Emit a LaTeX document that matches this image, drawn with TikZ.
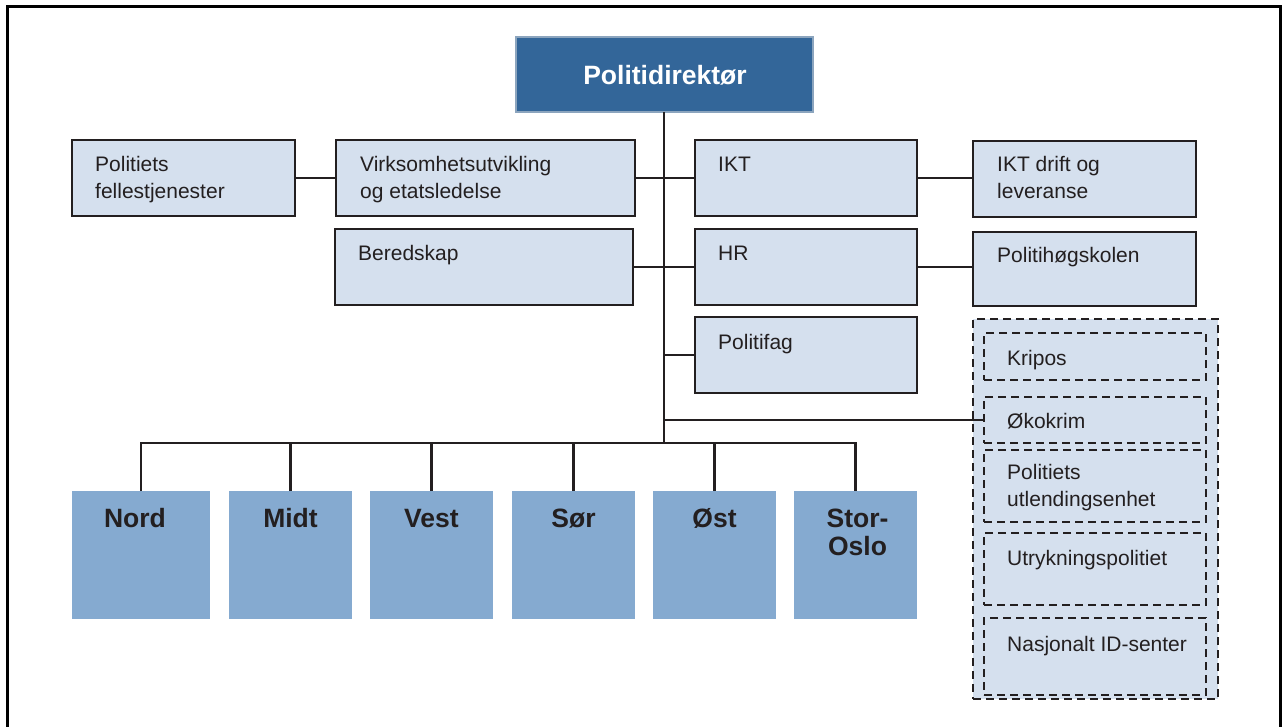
\documentclass[tikz,border=0pt]{standalone}
\usepackage{fontspec}
\setmainfont{Liberation Sans}
\usetikzlibrary{calc}
\definecolor{dirblue}{RGB}{51,102,153}
\definecolor{dirborder}{RGB}{140,165,190}
\definecolor{lightfill}{RGB}{213,224,238}
\definecolor{regfill}{RGB}{133,170,208}
\definecolor{ink}{RGB}{35,31,32}
\begin{document}
\begin{tikzpicture}[x=1pt,y=-1pt,
  lbox/.style={draw=ink, line width=2.6pt, fill=lightfill, rectangle, inner sep=0, outer sep=0},
  dbox/.style={lbox, dash pattern=on 8pt off 5pt, line width=2.6pt, fill=none},
  regbox/.style={rectangle, fill=regfill, inner sep=0, outer sep=0, minimum height=128pt},
  lbl/.style={font=\fontsize{21}{27}\selectfont, text=ink, inner sep=0, anchor=base west},
  rlbl/.style={font=\bfseries\fontsize{26.5}{28}\selectfont, text=ink, inner sep=0, anchor=base},
  conn/.style={draw=ink, line width=2.4pt}]
\useasboundingbox (0,0) rectangle (1284,727);
% frame
\draw[line width=3pt, black] (7,735) -- (7,7) -- (1280,7) -- (1280,735);
% top box
\node[rectangle, fill=dirblue, draw=dirborder, line width=1.5pt, inner sep=0, outer sep=0,
  minimum width=297pt, minimum height=75pt] (dir) at (664.5,74.5) {};
\node[font=\bfseries\fontsize{26.5}{28}\selectfont, text=white, inner sep=0, anchor=base] (dirt)
  at ($(dir.north)+(0.5,48)$) {Politidirektør};
% light boxes
\node[lbox, minimum width=223pt, minimum height=76pt] (pf) at (183.5,178) {};
\node[lbox, minimum width=299pt, minimum height=76pt] (vu) at (485.5,178) {};
\node[lbox, minimum width=222pt, minimum height=76pt] (ikt) at (806,178) {};
\node[lbox, minimum width=223pt, minimum height=76pt] (iktd) at (1084.5,179) {};
\node[lbox, minimum width=298pt, minimum height=76pt] (ber) at (484,267) {};
\node[lbox, minimum width=222pt, minimum height=76pt] (hr) at (806,267) {};
\node[lbox, minimum width=223pt, minimum height=74pt] (phs) at (1084.5,269) {};
\node[lbox, minimum width=222pt, minimum height=76pt] (pfag) at (806,355) {};
% dashed group
\node[lbox, dash pattern=on 8pt off 5pt, line width=1.8pt, minimum width=245pt, minimum height=380pt] (grp) at (1095.5,509) {};
\node[dbox, minimum width=222pt, minimum height=47pt] (kri) at (1095,356.5) {};
\node[dbox, minimum width=222pt, minimum height=46pt] (oko) at (1095,420) {};
\node[dbox, minimum width=222pt, minimum height=72pt] (pue) at (1095,486) {};
\node[dbox, minimum width=222pt, minimum height=72pt] (up) at (1095,569) {};
\node[dbox, minimum width=222pt, minimum height=77pt] (nid) at (1095,656.5) {};
% labels
\node[lbl] (pft) at ($(pf.north west)+(23,32)$) {\begin{tabular}[t]{@{}l@{}}Politiets\\fellestjenester\end{tabular}};
\node[lbl] (vut) at ($(vu.north west)+(24,32)$) {\begin{tabular}[t]{@{}l@{}}Virksomhetsutvikling\\og etatsledelse\end{tabular}};
\node[lbl] (iktt) at ($(ikt.north west)+(23,32)$) {IKT};
\node[lbl] (iktdt) at ($(iktd.north west)+(24,31)$) {\begin{tabular}[t]{@{}l@{}}IKT drift og\\leveranse\end{tabular}};
\node[lbl] (bert) at ($(ber.north west)+(23,32)$) {Beredskap};
\node[lbl] (hrt) at ($(hr.north west)+(23,32)$) {HR};
\node[lbl] (phst) at ($(phs.north west)+(24,30)$) {Politihøgskolen};
\node[lbl] (pfagt) at ($(pfag.north west)+(23,32)$) {Politifag};
\node[lbl] (krit) at ($(kri.north west)+(23,32)$) {Kripos};
\node[lbl] (okot) at ($(oko.north west)+(23,31)$) {Økokrim};
\node[lbl] (puet) at ($(pue.north west)+(23,29)$) {\begin{tabular}[t]{@{}l@{}}Politiets\\utlendingsenhet\end{tabular}};
\node[lbl] (upt) at ($(up.north west)+(23,32)$) {Utrykningspolitiet};
\node[lbl] (nidt) at ($(nid.north west)+(23,33)$) {Nasjonalt ID-senter};
% regions
\node[regbox, minimum width=138pt] (nord) at (141,555) {};
\node[regbox, minimum width=123pt] (midt) at (290.5,555) {};
\node[regbox, minimum width=123pt] (vest) at (431.5,555) {};
\node[regbox, minimum width=123pt] (sor) at (573.5,555) {};
\node[regbox, minimum width=123pt] (ost) at (714.5,555) {};
\node[regbox, minimum width=123pt] (so) at (855.5,555) {};
\node[rlbl] (nordt) at ($(nord.north)+(-6,36)$) {Nord};
\node[rlbl] (midtt) at ($(midt.north)+(0,36)$) {Midt};
\node[rlbl] (vestt) at ($(vest.north)+(0,36)$) {Vest};
\node[rlbl] (sort) at ($(sor.north)+(0,36)$) {Sør};
\node[rlbl] (ostt) at ($(ost.north)+(0,36)$) {Øst};
\node[rlbl] (sot) at ($(so.north)+(2,36)$) {\begin{tabular}[t]{@{}c@{}}Stor-\\Oslo\end{tabular}};
% connectors
\coordinate (br) at (664,443);
\draw[conn] (dir.south -| br) -- (br);
\draw[conn] (pf.east) -- (vu.west);
\draw[conn] (vu.east) -- (ikt.west);
\draw[conn] (ikt.east) -- (ikt.east -| iktd.west);
\draw[conn] (ber.east) -- (hr.west);
\draw[conn] (hr.east) -- (hr.east -| phs.west);
\draw[conn] (pfag.west -| br) -- (pfag.west);
\draw[conn] (oko.west -| br) -- (oko.west);
\draw[conn] (nord.north) -- (nord.north |- br) -- (so.north |- br) -- (so.north);
\draw[conn] (midt.north) -- (midt.north |- br);
\draw[conn] (vest.north) -- (vest.north |- br);
\draw[conn] (sor.north) -- (sor.north |- br);
\draw[conn] (ost.north) -- (ost.north |- br);
\end{tikzpicture}
\end{document}
